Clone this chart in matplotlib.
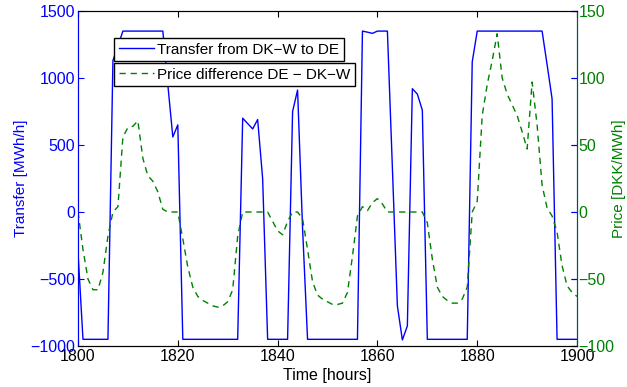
import matplotlib
matplotlib.use("Agg")
import matplotlib.pyplot as plt
import numpy as np

hours = list(range(1800, 1901))

transfer = [
    -300, -950, -950, -950, -950, -950, -950, 1130, 1240, 1350,   # 1800-1809
    1350, 1350, 1350, 1350, 1350, 1350, 1350, 1350, 950, 560,     # 1810-1819
    650, -950, -950, -950, -950, -950, -950, -950, -950, -950,    # 1820-1829
    -950, -950, -950, 700, 660, 620, 690, 250, -950, -950,        # 1830-1839
    -950, -950, -950, 750, 910, -120, -950, -950, -950, -950,     # 1840-1849
    -950, -950, -950, -950, -950, -950, -950, 1350, 1342, 1333,   # 1850-1859
    1350, 1350, 1350, 330, -700, -955, -850, 920, 880, 760,       # 1860-1869
    -950, -950, -950, -950, -950, -950, -950, -950, -950, 1120,   # 1870-1879
    1350, 1350, 1350, 1350, 1350, 1350, 1350, 1350, 1350, 1350,   # 1880-1889
    1350, 1350, 1350, 1350, 1100, 845, -950, -950, -950, -950,    # 1890-1899
    -950,                                                         # 1900
]

price = [
    0, -28, -50, -58, -58, -45, -18, 0, 4, 56,         # 1800-1809
    63, 64, 68, 40, 27, 23, 15, 2, 0, 0,               # 1810-1819
    0, -20, -41, -56, -63, -66, -68, -70, -71, -70,    # 1820-1829
    -67, -58, -18, 0, 0, 0, 0, 0, 0, -7,               # 1830-1839
    -14, -17, -7, 0, 0, -5, -28, -52, -62, -65,        # 1840-1849
    -67, -69, -69, -68, -60, -33, -3, 4, 1, 7,         # 1850-1859
    10, 6, 0, 0, 0, 0, 0, 0, 0, 0,                     # 1860-1869
    -8, -35, -56, -63, -66, -68, -68, -65, -56, 0,     # 1870-1879
    8, 72, 95, 113, 133, 100, 88, 80, 72, 60,          # 1880-1889
    47, 97, 65, 20, 3, -3, -15, -40, -55, -60,         # 1890-1899
    -63,                                               # 1900
]

xticks = [1800, 1820, 1840, 1860, 1880, 1900]
yticks_left = [-1000, -500, 0, 500, 1000, 1500]
yticks_right = [-100, -50, 0, 50, 100, 150]

BLUE = (0, 0, 1)
GREEN = (0, 0.5, 0)
TEAL = (0, 0.33, 0.33)

plt.rcParams['font.family'] = ['Liberation Sans', 'DejaVu Sans']
plt.rcParams['font.size'] = 11.5

fig = plt.figure(figsize=(6.27, 3.87), dpi=100)
ax1 = fig.add_axes([0.1244, 0.1059, 0.7959, 0.8657])
ax2 = ax1.twinx()

l1, = ax1.plot(hours, transfer, color=BLUE, lw=1.0, label='Transfer from DK\u2212W to DE')
l2, = ax2.plot(hours, price, color=GREEN, lw=1.0, ls=(0, (4.5, 3.5)),
               label='Price difference DE \u2212 DK\u2212W')

ax1.set_xlim(1800, 1900)
ax1.set_ylim(-1000, 1500)
ax2.set_ylim(-100, 150)
ax1.set_xticks(xticks)
ax1.set_yticks(yticks_left)
ax2.set_yticks(yticks_right)
ax1.set_yticklabels([str(v).replace('-', '\u2212') for v in yticks_left])
ax2.set_yticklabels([str(v).replace('-', '\u2212') for v in yticks_right])

ax1.tick_params(axis='x', direction='in', length=4, top=True, colors='black', pad=2)
ax1.tick_params(axis='y', direction='in', length=4, colors=BLUE, pad=2, right=True)
ax2.tick_params(axis='y', direction='in', length=4, color=BLUE, labelcolor=GREEN, pad=1)

for ax in (ax1, ax2):
    ax.spines['top'].set_color('black')
    ax.spines['bottom'].set_color('black')
    ax.spines['left'].set_color(BLUE)
    ax.spines['right'].set_color(TEAL)

ax1.set_xlabel('Time [hours]', labelpad=3)
ax1.set_ylabel('Transfer [MWh/h]', color=BLUE, fontsize=11)
ax1.yaxis.set_label_coords(-0.100, 0.5)
ax2.set_ylabel('Price [DKK/MWh]', color=GREEN, fontsize=11)
ax2.yaxis.set_label_coords(1.071, 0.5)

leg_kw = dict(loc='upper left', frameon=True, fancybox=False, edgecolor='black',
              framealpha=1, handlelength=2.3, borderpad=0.3, borderaxespad=0,
              handletextpad=0.25, prop={'size': 11})
leg1 = ax2.legend(handles=[l1], bbox_to_anchor=(0.072, 0.919), **leg_kw)
leg1.get_frame().set_linewidth(1.0)
ax2.add_artist(leg1)
leg2 = ax2.legend(handles=[l2], bbox_to_anchor=(0.072, 0.845), **leg_kw)
leg2.get_frame().set_linewidth(1.0)

fig.savefig('out.png', dpi=100)
